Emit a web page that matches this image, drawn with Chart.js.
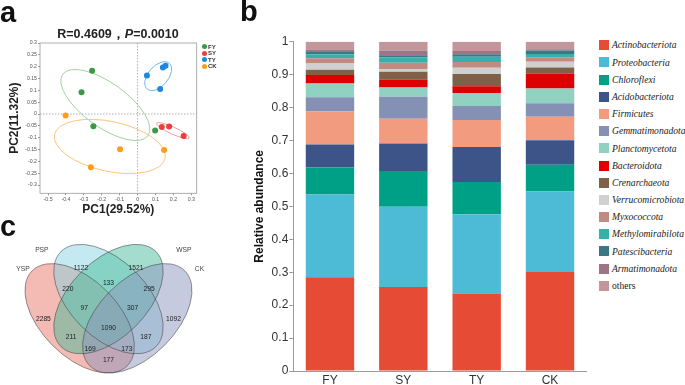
<!DOCTYPE html>
<html>
<head>
<meta charset="utf-8">
<script src="https://cdn.jsdelivr.net/npm/chart.js@4.4.1/dist/chart.umd.min.js"></script>
<style>
  html, body { margin: 0; padding: 0; background: #fff; }
  #fig { position: relative; width: 685px; height: 385px; overflow: hidden; font-family: "Liberation Sans", Arial, sans-serif; }
  #fig canvas { position: absolute; }
  .tag { position: absolute; font-weight: bold; font-size: 29px; line-height: 29px; color: #111; }
  #pcaTitle { position: absolute; left: 0; top: 27px; width: 236px; text-align: center; font-weight: bold; font-size: 12.5px; line-height: 14px; color: #222; }
  #pcaLegend { position: absolute; left: 202px; top: 44px; }
  #pcaLegend div { height: 6.45px; line-height: 6.45px; font-size: 6px; font-weight: bold; color: #333; white-space: nowrap; }
  #pcaLegend span { display: inline-block; width: 5px; height: 5px; border-radius: 50%; margin-right: 1px; vertical-align: middle; position: relative; top: -0.5px; }
  #barLegend { position: absolute; left: 599px; top: 36.4px; }
  #barLegend div { height: 17.2px; line-height: 17.2px; font-family: "Liberation Serif", "Times New Roman", serif; font-style: italic; font-size: 9.6px; color: #222; white-space: nowrap; }
  #barLegend div.plain { font-style: normal; }
  #barLegend span { display: inline-block; width: 10px; height: 10px; margin-right: 3px; vertical-align: middle; position: relative; top: -1px; }
</style>
</head>
<body>
<div id="fig">
  <canvas id="pcaChart" width="230" height="220" style="left:0;top:0"></canvas>
  <canvas id="vennChart" width="230" height="170" style="left:0;top:215px"></canvas>
  <canvas id="barChart" width="350" height="385" style="left:240px;top:0"></canvas>
  <div class="tag" style="left:0;top:-2.5px">a</div>
  <div class="tag" style="left:240px;top:-2.8px">b</div>
  <div class="tag" style="left:0;top:212px">c</div>
  <div id="pcaTitle">R=0.4609，<i>P</i>=0.0010</div>
  <div id="pcaLegend"></div>
  <div id="barLegend"></div>
</div>
<script>
Chart.defaults.font.family = '"Liberation Sans", Arial, sans-serif';
Chart.defaults.animation = false;

// ---------- panel a : PCoA ----------
const pcaGroups = ['FY', 'SY', 'TY', 'CK'];
const pcaPointColors = ['#3c9a42', '#ee3e3c', '#1d86df', '#ff9c1b'];
const pcaRingColors = ['#a3d39d', '#f29a9a', '#6cb8e8', '#fcc57c'];

const fyPoints = [{x: -0.254, y: 0.183}, {x: -0.313, y: 0.092}, {x: -0.247, y: -0.052}, {x: 0.098, y: -0.070}];
const syPoints = [{x: 0.135, y: -0.055}, {x: 0.176, y: -0.053}, {x: 0.257, y: -0.093}];
const tyPoints = [{x: 0.052, y: 0.163}, {x: 0.141, y: 0.196}, {x: 0.156, y: 0.204}, {x: 0.126, y: 0.106}];
const ckPoints = [{x: -0.402, y: -0.006}, {x: -0.261, y: -0.225}, {x: -0.098, y: -0.149}, {x: 0.148, y: -0.152}];

const pcaXTicks = [-0.5, -0.4, -0.3, -0.2, -0.1, 0, 0.1, 0.2, 0.3];
const pcaYTicks = [-0.3, -0.25, -0.2, -0.15, -0.1, -0.05, 0, 0.05, 0.1, 0.15, 0.2, 0.25, 0.3];

// confidence ellipses : centre + the two half-axis vectors, in PC units
const fyEllipse = {centre: [-0.18, 0.038], u: [0.238, -0.13], v: [-0.073, -0.075]};
const syEllipse = {centre: [0.197, -0.070], u: [0.091, -0.031], v: [-0.008, -0.0135]};
const tyEllipse = {centre: [0.115, 0.160], u: [0.062, 0.054], v: [0.042, -0.028]};
const ckEllipse = {centre: [-0.155, -0.137], u: [0.309, -0.050], v: [-0.029, -0.103]};

// ---------- panel b : phylum composition ----------
const sites = ['FY', 'SY', 'TY', 'CK'];
const phyla = ['Actinobacteriota', 'Proteobacteria', 'Chloroflexi', 'Acidobacteriota', 'Firmicutes',
  'Gemmatimonadota', 'Planctomycetota', 'Bacteroidota', 'Crenarchaeota', 'Verrucomicrobiota',
  'Myxococcota', 'Methylomirabilota', 'Patescibacteria', 'Armatimonadota', 'others'];
const phylumColors = ['#e64b35', '#4dbbd5', '#00a087', '#3c5488', '#f39b7f',
  '#8491b4', '#91d1c2', '#dc0000', '#7e6148', '#d0d0d0',
  '#c08b80', '#35b0ab', '#3b7886', '#9d7587', '#c3969c'];
const barYTicks = [0, 0.1, 0.2, 0.3, 0.4, 0.5, 0.6, 0.7, 0.8, 0.9, 1];

const actinobacteriota  = [0.285, 0.255, 0.235, 0.301];
const proteobacteria    = [0.251, 0.244, 0.241, 0.244];
const chloroflexi       = [0.082, 0.108, 0.098, 0.081];
const acidobacteriota   = [0.070, 0.084, 0.106, 0.075];
const firmicutes        = [0.100, 0.075, 0.082, 0.071];
const gemmatimonadota   = [0.043, 0.067, 0.043, 0.041];
const planctomycetota   = [0.042, 0.028, 0.039, 0.045];
const bacteroidota      = [0.026, 0.024, 0.021, 0.045];
const crenarchaeota     = [0.016, 0.024, 0.037, 0.019];
const verrucomicrobiota = [0.019, 0.008, 0.019, 0.017];
const myxococcota       = [0.016, 0.019, 0.017, 0.014];
const methylomirabilota = [0.011, 0.016, 0.016, 0.010];
const patescibacteria   = [0.008, 0.007, 0.008, 0.010];
const armatimonadota    = [0.007, 0.014, 0.010, 0.004];
const others            = [0.024, 0.027, 0.028, 0.023];

const abundance = [actinobacteriota, proteobacteria, chloroflexi, acidobacteriota, firmicutes,
  gemmatimonadota, planctomycetota, bacteroidota, crenarchaeota, verrucomicrobiota,
  myxococcota, methylomirabilota, patescibacteria, armatimonadota, others];

// ---------- panel c : Venn ----------
const vennSets = ['YSP', 'PSP', 'WSP', 'CK'];
const vennColors = ['rgba(233,117,105,0.5)', 'rgba(137,211,225,0.5)', 'rgba(73,187,155,0.5)', 'rgba(141,149,189,0.5)'];
const vennCounts = [2285, 1122, 1521, 1092, 220, 133, 295, 97, 307, 1090, 211, 187, 169, 173, 177];
// where each count sits, in diagram units
const vennSpots = [
  {x: 0.161, y: 0.465}, {x: 0.357, y: 0.733}, {x: 0.643, y: 0.733}, {x: 0.839, y: 0.465},
  {x: 0.288, y: 0.621}, {x: 0.5, y: 0.655}, {x: 0.712, y: 0.621},
  {x: 0.374, y: 0.525}, {x: 0.626, y: 0.525}, {x: 0.5, y: 0.418},
  {x: 0.305, y: 0.371}, {x: 0.695, y: 0.371}, {x: 0.404, y: 0.310}, {x: 0.596, y: 0.310},
  {x: 0.5, y: 0.253}
];
const vennSetSpots = [{x: 0.055, y: 0.727}, {x: 0.153, y: 0.826}, {x: 0.893, y: 0.826}, {x: 0.974, y: 0.727}];
// classic four-ellipse layout : centre, half axes, tilt (deg)
const vennShapes = [
  {centre: [0.35, 0.47], a: 0.35, b: 0.2, tilt: 135},
  {centre: [0.50, 0.57], a: 0.35, b: 0.2, tilt: 135},
  {centre: [0.50, 0.57], a: 0.35, b: 0.2, tilt: 45},
  {centre: [0.65, 0.47], a: 0.35, b: 0.2, tilt: 45}
];

// path of an ellipse given in data units (centre + two half-axis vectors)
function traceEllipse(chart, centre, u, v) {
  const {ctx, scales: {x, y}} = chart;
  const cx = x.getPixelForValue(centre[0]);
  const cy = y.getPixelForValue(centre[1]);
  const ux = x.getPixelForValue(centre[0] + u[0]) - cx;
  const uy = y.getPixelForValue(centre[1] + u[1]) - cy;
  const vx = x.getPixelForValue(centre[0] + v[0]) - cx;
  const vy = y.getPixelForValue(centre[1] + v[1]) - cy;
  ctx.save();
  ctx.transform(ux, uy, vx, vy, cx, cy);
  ctx.beginPath();
  ctx.arc(0, 0, 1, 0, Math.PI * 2);
  ctx.restore();
}

// ---------- PCoA chart ----------
const pcaDecor = {
  id: 'pcaDecor',
  beforeDatasetsDraw(chart) {
    const {ctx, chartArea: a, scales: {x, y}} = chart;
    // frame
    ctx.save();
    ctx.strokeStyle = '#9a9a9a';
    ctx.lineWidth = 0.8;
    ctx.strokeRect(a.left, a.top, a.right - a.left, a.bottom - a.top);
    // dotted zero lines
    ctx.setLineDash([1.5, 1.5]);
    ctx.beginPath();
    ctx.moveTo(x.getPixelForValue(0), a.top);
    ctx.lineTo(x.getPixelForValue(0), a.bottom);
    ctx.moveTo(a.left, y.getPixelForValue(0));
    ctx.lineTo(a.right, y.getPixelForValue(0));
    ctx.stroke();
    ctx.restore();
    [fyEllipse, syEllipse, tyEllipse, ckEllipse].forEach((e, i) => {
      traceEllipse(chart, e.centre, e.u, e.v);
      ctx.save();
      ctx.strokeStyle = pcaRingColors[i];
      ctx.lineWidth = 1;
      ctx.stroke();
      ctx.restore();
    });
  }
};

const pcaTickFont = {size: 5.2};
new Chart(document.getElementById('pcaChart'), {
  type: 'scatter',
  data: {
    datasets: [fyPoints, syPoints, tyPoints, ckPoints].map((pts, i) => ({
      label: pcaGroups[i],
      data: pts,
      backgroundColor: pcaPointColors[i],
      borderColor: pcaPointColors[i],
      pointRadius: 3,
      borderWidth: 0
    }))
  },
  options: {
    responsive: false,
    layout: {padding: {top: 43, right: 33.3, bottom: 0, left: 0}},
    plugins: {legend: {display: false}, tooltip: {enabled: false}},
    scales: {
      x: {
        type: 'linear', min: -0.545, max: 0.33,
        afterBuildTicks: s => { s.ticks = pcaXTicks.map(value => ({value})); },
        afterFit: s => { s.height = 26.7; },
        ticks: {font: pcaTickFont, color: '#555', padding: 1, maxRotation: 0, callback: v => String(+v.toFixed(2))},
        grid: {drawOnChartArea: false, tickLength: 2, color: '#999'},
        border: {display: false},
        title: {display: true, text: 'PC1(29.52%)', font: {size: 12, weight: 'bold'}, color: '#222', padding: {top: 0, bottom: 3.5}}
      },
      y: {
        type: 'linear', min: -0.335, max: 0.3,
        afterBuildTicks: s => { s.ticks = pcaYTicks.map(value => ({value})); },
        afterFit: s => { s.width = 40; },
        ticks: {font: pcaTickFont, color: '#555', padding: 1, callback: v => String(+v.toFixed(2))},
        grid: {drawOnChartArea: false, tickLength: 2, color: '#999'},
        border: {display: false},
        title: {display: true, text: 'PC2(11.32%)', font: {size: 12, weight: 'bold'}, color: '#222', padding: {top: 7, bottom: 0}}
      }
    }
  },
  plugins: [pcaDecor]
});

// ---------- Venn chart ----------
const vennDecor = {
  id: 'vennDecor',
  beforeDatasetsDraw(chart) {
    const {ctx} = chart;
    const paths = vennShapes.map(s => {
      const t = s.tilt * Math.PI / 180;
      return {centre: s.centre, u: [s.a * Math.cos(t), s.a * Math.sin(t)], v: [-s.b * Math.sin(t), s.b * Math.cos(t)]};
    });
    paths.forEach((p, i) => {
      traceEllipse(chart, p.centre, p.u, p.v);
      ctx.fillStyle = vennColors[i];
      ctx.fill();
    });
    paths.forEach(p => {
      traceEllipse(chart, p.centre, p.u, p.v);
      ctx.save();
      ctx.strokeStyle = 'rgba(60,60,60,0.75)';
      ctx.lineWidth = 0.7;
      ctx.stroke();
      ctx.restore();
    });
  },
  afterDatasetsDraw(chart) {
    const {ctx} = chart;
    ctx.save();
    ctx.textAlign = 'center';
    ctx.textBaseline = 'middle';
    ctx.font = '6.7px "Liberation Sans", Arial, sans-serif';
    ctx.fillStyle = '#222';
    chart.getDatasetMeta(0).data.forEach((pt, i) => ctx.fillText(String(vennCounts[i]), pt.x, pt.y));
    ctx.fillStyle = '#444';
    chart.getDatasetMeta(1).data.forEach((pt, i) => ctx.fillText(vennSets[i], pt.x, pt.y));
    ctx.restore();
  }
};

new Chart(document.getElementById('vennChart'), {
  type: 'scatter',
  data: {
    datasets: [
      {label: 'counts', data: vennSpots, pointRadius: 0},
      {label: 'sets', data: vennSetSpots, pointRadius: 0}
    ]
  },
  options: {
    responsive: false,
    layout: {padding: 0},
    plugins: {legend: {display: false}, tooltip: {enabled: false}},
    scales: {
      x: {type: 'linear', display: false, min: -0.065, max: 1.133},
      y: {type: 'linear', display: false, min: 0.1225, max: 1.008}
    }
  },
  plugins: [vennDecor]
});

// ---------- stacked bar chart ----------
new Chart(document.getElementById('barChart'), {
  type: 'bar',
  data: {
    labels: sites,
    datasets: abundance.map((vals, i) => ({
      label: phyla[i],
      data: vals,
      backgroundColor: phylumColors[i],
      borderWidth: 0,
      barPercentage: 0.66,
      categoryPercentage: 1
    }))
  },
  options: {
    responsive: false,
    layout: {padding: {top: 41.7, right: 3.3, bottom: 0, left: 0}},
    plugins: {legend: {display: false}, tooltip: {enabled: false}},
    scales: {
      x: {
        stacked: true,
        afterFit: s => { s.height = 14; },
        ticks: {font: {size: 12}, color: '#333', padding: 2},
        grid: {display: false, drawTicks: false},
        border: {color: '#999'}
      },
      y: {
        stacked: true, min: 0, max: 1,
        afterBuildTicks: s => { s.ticks = barYTicks.map(value => ({value})); },
        afterFit: s => { s.width = 53.3; },
        ticks: {font: {size: 12}, color: '#333', padding: 1, callback: v => String(+v.toFixed(1))},
        grid: {drawOnChartArea: false, tickLength: 4, color: '#999'},
        border: {color: '#999'},
        title: {display: true, text: 'Relative abundance', font: {size: 12, weight: 'bold'}, color: '#111', padding: {top: 12, bottom: 0}}
      }
    }
  }
});

// ---------- html legends ----------
const barLegend = document.getElementById('barLegend');
phyla.forEach((name, i) => {
  const row = document.createElement('div');
  if (name === 'others') row.className = 'plain';
  row.innerHTML = `<span style="background:${phylumColors[i]}"></span>${name}`;
  barLegend.appendChild(row);
});

const pcaLegend = document.getElementById('pcaLegend');
pcaGroups.forEach((g, i) => {
  const row = document.createElement('div');
  row.innerHTML = `<span style="background:${pcaPointColors[i]}"></span>${g}`;
  pcaLegend.appendChild(row);
});
</script>
</body>
</html>
